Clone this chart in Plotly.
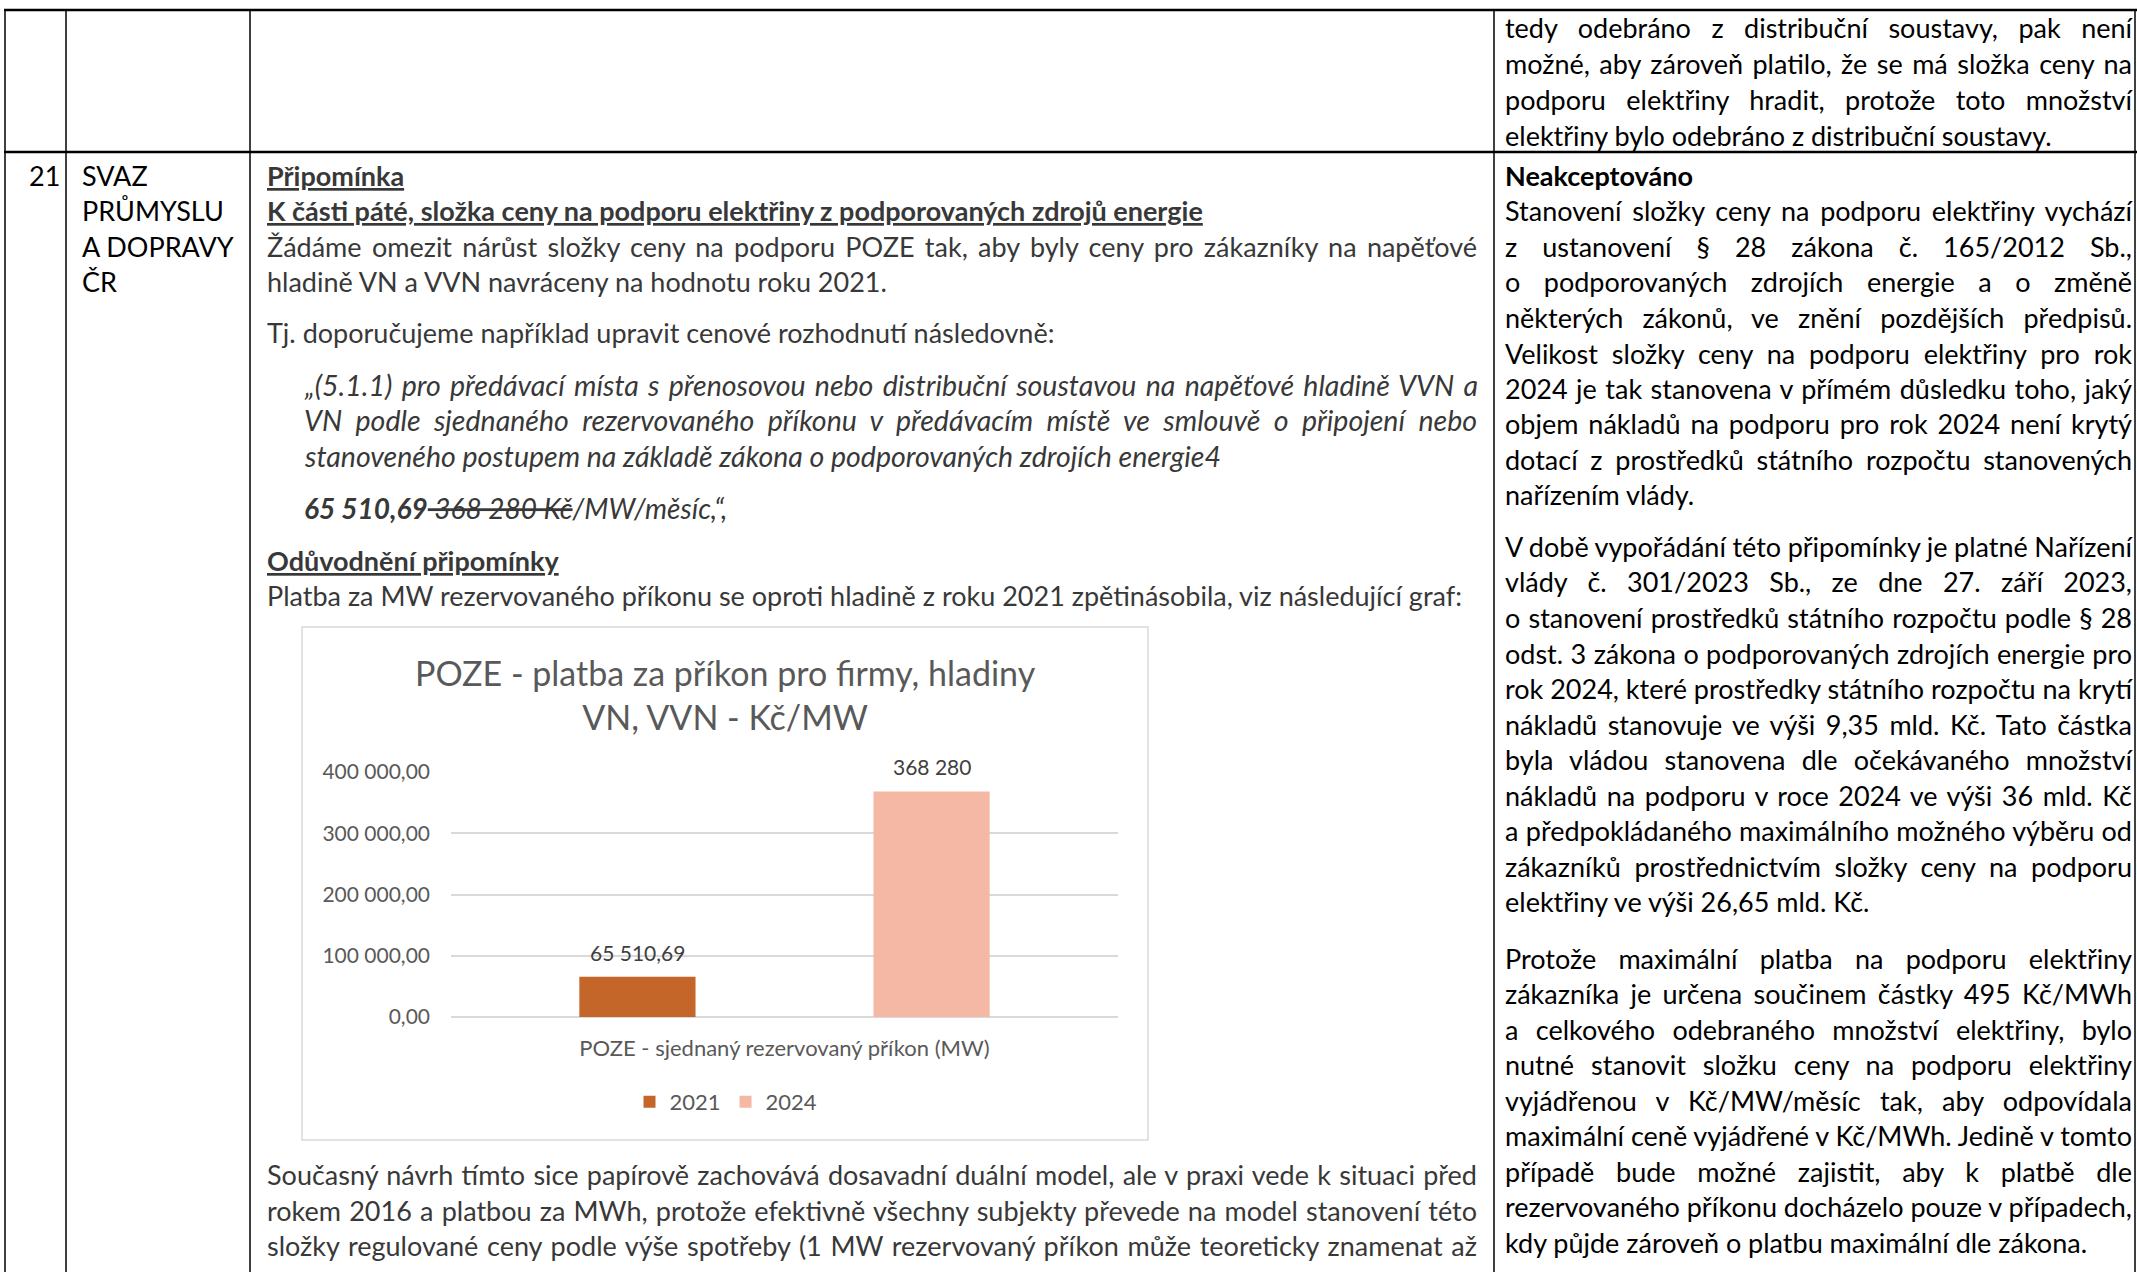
import json
import plotly.graph_objects as go

W, H = 2137, 1272

# ---------------- chart data ----------------
categories = ["POZE - sjednaný rezervovaný příkon (MW)"]
series_names = ["2021", "2024"]
values_2021 = [65510.69]
values_2024 = [368280]
series_colors = ["#C4662A", "#F4B8A5"]
y_tick_vals = [0, 100000, 200000, 300000, 400000]
y_tick_text = ["0,00", "100 000,00", "200 000,00", "300 000,00", "400 000,00"]
data_labels = ["65 510,69", "368 280"]
chart_title = "POZE - platba za příkon pro firmy, hladiny<br>VN, VVN - Kč/MW"

FONT = "Lato, 'Open Sans', sans-serif"
BODY = 27
ITAL = 28.5
GREY_TXT = "#383838"
CHART_TXT = "#595959"


def fx(px):
    return px / W


def fy(py):
    return 1 - py / H


BARGAP = 0.118
BARGROUPGAP = 0.605

fig = go.Figure()
for name, vals, col in zip(series_names, [values_2021, values_2024], series_colors):
    fig.add_trace(go.Bar(x=categories, y=vals, name=name, marker_color=col,
                         marker_line_width=0, hoverinfo="skip"))

annotations = []
justify = []


def add_text(text, x, y, color="#000000", size=BODY, right=None, **kw):
    idx = len(annotations)
    annotations.append(dict(text=text, x=fx(x), y=fy(y), xref="paper", yref="paper",
                            xanchor="left", yanchor="middle", align="left",
                            showarrow=False, borderpad=0,
                            font=dict(family=FONT, size=size, color=color), **kw))
    if right is not None:
        justify.append([idx, right - x])


# column 1 / 2
add_text("21", 28, 175)
for t, y in zip(["SVAZ", "PRŮMYSLU", "A DOPRAVY", "ČR"], [175, 210, 246, 281]):
    add_text(t, 81, y)

# column 3
L = 266
Q = 303
R3 = 1476
col3 = [
    ("<b><u>Připomínka</u></b>", L, 175, None, BODY),
    ("<b><u>K části páté, složka ceny na podporu elektřiny z podporovaných zdrojů energie</u></b>", L, 210, None, BODY),
    ("Žádáme omezit nárůst složky ceny na podporu POZE tak, aby byly ceny pro zákazníky na napěťové", L, 246, R3, BODY),
    ("hladině VN a VVN navráceny na hodnotu roku 2021.", L, 281, None, BODY),
    ("Tj. doporučujeme například upravit cenové rozhodnutí následovně:", L, 332, None, BODY),
    ("<i>„(5.1.1) pro předávací místa s přenosovou nebo distribuční soustavou na napěťové hladině VVN a</i>", Q, 385, R3, ITAL),
    ("<i>VN podle sjednaného rezervovaného příkonu v předávacím místě ve smlouvě o připojení nebo</i>", Q, 420, R3, ITAL),
    ("<i>stanoveného postupem na základě zákona o podporovaných zdrojích energie4</i>", Q, 456, None, ITAL),
    ("<b><i>65 510,69</i></b><i><s> 368 280 Kč</s>/MW/měsíc,“,</i>", Q, 508, None, 28),
    ("<b><u>Odůvodnění připomínky</u></b>", L, 560, None, BODY),
    ("Platba za MW rezervovaného příkonu se oproti hladině z roku 2021 zpětinásobila, viz následující graf:", L, 595, None, BODY),
    ("Současný návrh tímto sice papírově zachovává dosavadní duální model, ale v praxi vede k situaci před", L, 1174, R3, BODY),
    ("rokem 2016 a platbou za MWh, protože efektivně všechny subjekty převede na model stanovení této", L, 1210, R3, BODY),
    ("složky regulované ceny podle výše spotřeby (1 MW rezervovaný příkon může teoreticky znamenat až", L, 1245, R3, BODY),
]
for t, x, y, r, s in col3:
    add_text(t, x, y, color=GREY_TXT, size=s, right=r)

# column 4
X4 = 1504
R4 = 2131
col4 = [
    ("tedy odebráno z distribuční soustavy, pak není", 28, True),
    ("možné, aby zároveň platilo, že se má složka ceny na", 64, True),
    ("podporu elektřiny hradit, protože toto množství", 99, True),
    ("elektřiny bylo odebráno z distribuční soustavy.", 135, False),
    ("<b>Neakceptováno</b>", 175, False),
    ("Stanovení složky ceny na podporu elektřiny vychází", 210, True),
    ("z ustanovení § 28 zákona č. 165/2012 Sb.,", 246, True),
    ("o podporovaných zdrojích energie a o změně", 281, True),
    ("některých zákonů, ve znění pozdějších předpisů.", 317, True),
    ("Velikost složky ceny na podporu elektřiny pro rok", 353, True),
    ("2024 je tak stanovena v přímém důsledku toho, jaký", 388, True),
    ("objem nákladů na podporu pro rok 2024 není krytý", 424, True),
    ("dotací z prostředků státního rozpočtu stanovených", 459, True),
    ("nařízením vlády.", 495, False),
    ("V době vypořádání této připomínky je platné Nařízení", 546, True),
    ("vlády č. 301/2023 Sb., ze dne 27. září 2023,", 582, True),
    ("o stanovení prostředků státního rozpočtu podle § 28", 617, True),
    ("odst. 3 zákona o podporovaných zdrojích energie pro", 653, True),
    ("rok 2024, které prostředky státního rozpočtu na krytí", 688, True),
    ("nákladů stanovuje ve výši 9,35 mld. Kč. Tato částka", 724, True),
    ("byla vládou stanovena dle očekávaného množství", 759, True),
    ("nákladů na podporu v roce 2024 ve výši 36 mld. Kč", 795, True),
    ("a předpokládaného maximálního možného výběru od", 830, True),
    ("zákazníků prostřednictvím složky ceny na podporu", 866, True),
    ("elektřiny ve výši 26,65 mld. Kč.", 901, False),
    ("Protože maximální platba na podporu elektřiny", 958, True),
    ("zákazníka je určena součinem částky 495 Kč/MWh", 993, True),
    ("a celkového odebraného množství elektřiny, bylo", 1029, True),
    ("nutné stanovit složku ceny na podporu elektřiny", 1064, True),
    ("vyjádřenou v Kč/MW/měsíc tak, aby odpovídala", 1100, True),
    ("maximální ceně vyjádřené v Kč/MWh. Jedině v tomto", 1135, True),
    ("případě bude možné zajistit, aby k platbě dle", 1171, True),
    ("rezervovaného příkonu docházelo pouze v případech,", 1206, True),
    ("kdy půjde zároveň o platbu maximální dle zákona.", 1242, False),
]
for t, y, j in col4:
    add_text(t, X4, y, color="#000000", right=R4 if j else None)

# chart title
annotations.append(dict(text=chart_title, x=fx(725), y=fy(694), xref="paper", yref="paper",
                        xanchor="center", yanchor="middle", align="center", showarrow=False,
                        font=dict(family=FONT, size=34, color=CHART_TXT)))

# data labels (positioned on the data axes)
half = (1 - BARGAP) / 4
for i, (vals, lab) in enumerate(zip([values_2021, values_2024], data_labels)):
    annotations.append(dict(text=lab, x=(-half if i == 0 else half), y=vals[0], xref="x", yref="y",
                            xanchor="center", yanchor="bottom", yshift=10, showarrow=False,
                            font=dict(family=FONT, size=21, color="#404040")))

shapes = []
# chart frame
shapes.append(dict(type="rect", xref="paper", yref="paper", x0=fx(302), x1=fx(1148),
                   y0=fy(1140), y1=fy(627), line=dict(color="#d9d9d9", width=1.5),
                   fillcolor="rgba(0,0,0,0)", layer="below"))
# table rules
for y in [10, 152]:
    shapes.append(dict(type="line", xref="paper", yref="paper", x0=fx(4), x1=fx(2137),
                       y0=fy(y), y1=fy(y), line=dict(color="#000000", width=2.5)))
for x in [5, 66, 250, 1494, 2135]:
    shapes.append(dict(type="line", xref="paper", yref="paper", x0=fx(x), x1=fx(x),
                       y0=fy(10), y1=fy(1272), line=dict(color="#000000", width=1.5)))

fig.update_layout(
    width=W, height=H, margin=dict(l=0, r=0, t=0, b=0, pad=0, autoexpand=False),
    paper_bgcolor="white", plot_bgcolor="white",
    barmode="group", bargap=BARGAP, bargroupgap=BARGROUPGAP,
    font=dict(family=FONT, color=CHART_TXT),
    showlegend=True,
    legend=dict(orientation="h", x=fx(726), xanchor="center", y=fy(1102), yanchor="middle",
                font=dict(family=FONT, size=22, color=CHART_TXT), bgcolor="rgba(0,0,0,0)",
                itemwidth=30, traceorder="normal"),
    xaxis=dict(domain=[fx(451), fx(1118)], type="category", showgrid=False, showline=False,
               zeroline=False, ticks="", ticklabelstandoff=16, automargin=False,
               tickfont=dict(family=FONT, size=22, color=CHART_TXT), fixedrange=True),
    yaxis=dict(domain=[fy(1017), fy(772)], range=[0, 400000], tickvals=y_tick_vals,
               ticktext=y_tick_text, showgrid=True, gridcolor="#d9d9d9", gridwidth=1.5,
               zeroline=True, zerolinecolor="#d9d9d9", zerolinewidth=1.5, showline=False,
               ticks="", ticklabelstandoff=20, automargin=False,
               tickfont=dict(family=FONT, size=21, color=CHART_TXT), fixedrange=True),
    annotations=annotations,
    shapes=shapes,
)

post = """
document.body.style.margin='0';
document.body.style.overflow='hidden';
var gd=document.getElementById('{plot_id}');
var J=%s;
J.forEach(function(p){
  var g=gd.querySelector('g.annotation[data-index="'+p[0]+'"]');
  if(!g){return;}
  var t=g.querySelector('text.annotation-text');
  if(!t){return;}
  var len=t.getComputedTextLength();
  var n=(t.textContent.match(/[ \\u00a0]/g)||[]).length;
  if(n>0){t.style.wordSpacing=((p[1]-len)/n)+'px';}
});
""" % json.dumps(justify)

fig.write_html("out.html", config={"displayModeBar": False}, post_script=post)
